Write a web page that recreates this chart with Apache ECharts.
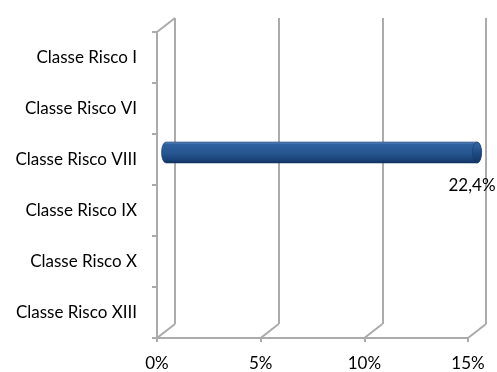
<!DOCTYPE html>
<html><head><meta charset="utf-8">
<script src="https://cdn.jsdelivr.net/npm/echarts@6/dist/echarts.min.js"></script>
<style>html,body{margin:0;padding:0;background:#fff}#c{width:497px;height:372px}</style>
</head><body><div id="c"></div>
<script>
const categories = ['Classe Risco I', 'Classe Risco VI', 'Classe Risco VIII', 'Classe Risco IX', 'Classe Risco X', 'Classe Risco XIII'];
const values = [null, null, 22.4, null, null, null];
const xMin = 0, xMax = 15, xInterval = 5;
const xTickValues = [0, 5, 10, 15];

const FONT = 'Lato';
const GRAY = '#ababab';
const DEPTH_X = 18, DEPTH_Y = -14;

function fmtPct(v) { return String(v).replace('.', ',') + '%'; }

function renderFrame(params, api) {
  const cs = params.coordSys;
  const x = api.coord([api.value(0), 0])[0];
  const bottom = cs.y + cs.height;
  const children = [{
    type: 'line',
    shape: { x1: x, y1: bottom, x2: x + DEPTH_X, y2: bottom + DEPTH_Y },
    style: { stroke: GRAY, lineWidth: 2 }
  }];
  if (params.dataIndex === 0) {
    children.push({
      type: 'line',
      shape: { x1: cs.x, y1: cs.y, x2: cs.x + DEPTH_X, y2: cs.y + DEPTH_Y },
      style: { stroke: GRAY, lineWidth: 2 }
    });
  }
  return { type: 'group', children };
}

function renderBar(params, api) {
  const v = api.value(0), ci = api.value(1);
  if (v == null || isNaN(v)) return;
  const p0 = api.coord([xMin, ci]);
  const p1 = api.coord([Math.min(v, xMax), ci]);
  const band = api.size([0, 1])[1];
  const h = band * 0.41;
  const x0 = p0[0] + DEPTH_X / 2, x1 = p1[0] + DEPTH_X / 2, yc = p0[1] + DEPTH_Y / 2;
  const yt = yc - h / 2, yb = yc + h / 2, rx = 4.5, ry = h / 2;
  const body = `M${x0},${yt} L${x1},${yt} A${rx},${ry} 0 0 1 ${x1},${yb} L${x0},${yb} A${rx},${ry} 0 0 1 ${x0},${yt} Z`;
  const face = `M${x1},${yt} A${rx},${ry} 0 0 1 ${x1},${yb} A${rx},${ry} 0 0 1 ${x1},${yt} Z`;
  const grad = new echarts.graphic.LinearGradient(0, 0, 0, 1, [
    { offset: 0, color: '#6a93c8' },
    { offset: 0.12, color: '#2f609f' },
    { offset: 0.55, color: '#26558f' },
    { offset: 0.85, color: '#1a4278' },
    { offset: 1, color: '#0e2c58' }
  ]);
  const faceGrad = new echarts.graphic.LinearGradient(0, 0, 0, 1, [
    { offset: 0, color: '#3a6aa6' },
    { offset: 0.5, color: '#1f4c86' },
    { offset: 1, color: '#12345f' }
  ]);
  return {
    type: 'group',
    children: [
      { type: 'path', shape: { pathData: body }, style: { fill: grad, stroke: '#173d70', lineWidth: 0.6 } },
      { type: 'path', shape: { pathData: face }, style: { fill: faceGrad, stroke: '#173d70', lineWidth: 0.6 } },
      { type: 'text', style: { text: fmtPct(v), x: p1[0] + 4, y: p1[1] + 26, font: '17px ' + FONT, fill: '#000', align: 'center', verticalAlign: 'middle' } }
    ]
  };
}

const chart = echarts.init(document.getElementById('c'), null, { renderer: 'canvas' });
chart.setOption({
  animation: false,
  backgroundColor: '#fff',
  grid: [
    { left: 157, top: 32, width: 311, height: 306 },
    { left: 157 + DEPTH_X, top: 32 + DEPTH_Y, width: 311, height: 306 }
  ],
  xAxis: [
    {
      gridIndex: 0, type: 'value', min: xMin, max: xMax, interval: xInterval,
      axisLine: { show: true, lineStyle: { color: GRAY, width: 2 } },
      axisTick: { show: true, length: 4, lineStyle: { color: GRAY, width: 2 } },
      splitLine: { show: false },
      axisLabel: { formatter: '{value}%', fontFamily: FONT, fontSize: 17, color: '#000', margin: 17 }
    },
    {
      gridIndex: 1, type: 'value', min: xMin, max: xMax, interval: xInterval,
      axisLine: { show: false }, axisTick: { show: false }, axisLabel: { show: false },
      splitLine: { show: true, lineStyle: { color: GRAY, width: 2 } }
    }
  ],
  yAxis: [
    {
      gridIndex: 0, type: 'category', data: categories, inverse: true,
      axisLine: { show: true, lineStyle: { color: GRAY, width: 2 } },
      axisTick: { show: true, length: 5, lineStyle: { color: GRAY, width: 2 } },
      splitLine: { show: false },
      axisLabel: { fontFamily: FONT, fontSize: 17, color: '#000', margin: 20 }
    },
    { gridIndex: 1, type: 'category', data: categories, inverse: true, show: false, splitLine: { show: false } }
  ],
  series: [
    {
      type: 'custom', xAxisIndex: 0, yAxisIndex: 0, silent: true, z: 1,
      renderItem: renderFrame,
      data: xTickValues.map(t => [t, 0]),
      encode: { x: 0, y: 1 }
    },
    {
      type: 'custom', xAxisIndex: 0, yAxisIndex: 0, silent: true, z: 5,
      renderItem: renderBar,
      data: values.map((v, i) => [v, i]),
      encode: { x: 0, y: 1 }
    }
  ]
});
</script></body></html>
